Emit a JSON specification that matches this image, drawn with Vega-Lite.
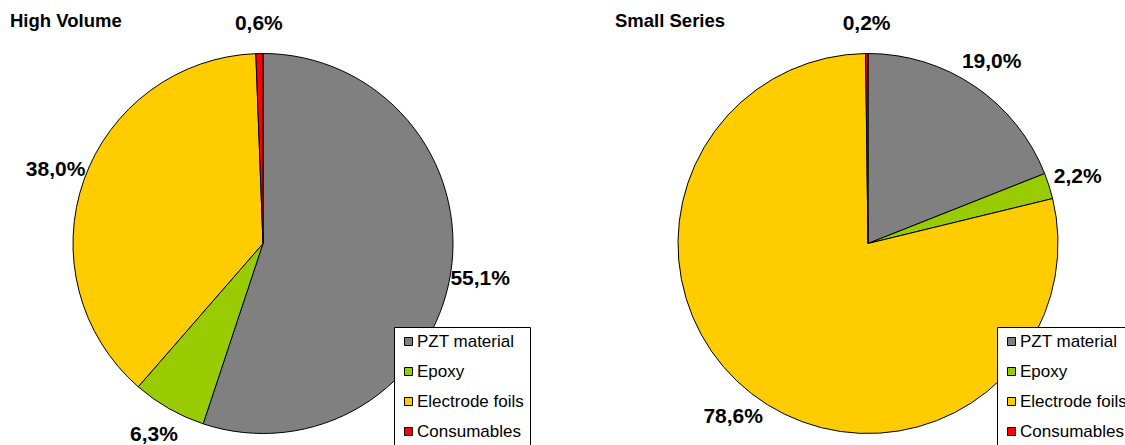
{
  "$schema": "https://vega.github.io/schema/vega-lite/v6.json",
  "padding": {"left": 0, "top": 0, "right": 0, "bottom": 0},
  "background": "white",
  "datasets": {
    "high": [
      {"component": "PZT material", "idx": 1, "share": 0.551},
      {"component": "Epoxy", "idx": 2, "share": 0.063},
      {"component": "Electrode foils", "idx": 3, "share": 0.380},
      {"component": "Consumables", "idx": 4, "share": 0.006}
    ],
    "small": [
      {"component": "PZT material", "idx": 1, "share": 0.190},
      {"component": "Epoxy", "idx": 2, "share": 0.022},
      {"component": "Electrode foils", "idx": 3, "share": 0.786},
      {"component": "Consumables", "idx": 4, "share": 0.002}
    ]
  },
  "spacing": 74,
  "resolve": {"scale": {"color": "independent"}, "legend": {"color": "independent"}},
  "hconcat": [
    {
      "title": {"text": "High Volume", "anchor": "start", "offset": -30},
      "width": 526,
      "height": 487,
      "data": {"name": "high"},
      "encoding": {
        "theta": {"field": "share", "type": "quantitative", "stack": true},
        "order": {"field": "idx", "type": "quantitative"}
      },
      "layer": [
        {
          "mark": {"type": "arc", "outerRadius": 190, "stroke": "black", "strokeWidth": 1},
          "encoding": {
            "color": {
              "field": "component",
              "type": "nominal",
              "scale": {"domain": ["PZT material", "Epoxy", "Electrode foils", "Consumables"], "range": ["#808080", "#99CC00", "#FFCC00", "#FF0000"]},
              "legend": {"orient": "none", "legendX": 394, "legendY": 327}
            }
          }
        },
        {
          "mark": {"type": "text", "radius": 220, "font": "Liberation Sans", "fontWeight": "bold", "fontSize": 21, "baseline": "middle", "align": "center", "color": "black"},
          "encoding": {"text": {"field": "share", "type": "quantitative", "format": ".1%"}}
        }
      ]
    },
    {
      "title": {"text": "Small Series", "anchor": "start", "offset": -30},
      "width": 526,
      "height": 487,
      "data": {"name": "small"},
      "encoding": {
        "theta": {"field": "share", "type": "quantitative", "stack": true},
        "order": {"field": "idx", "type": "quantitative"}
      },
      "layer": [
        {
          "mark": {"type": "arc", "outerRadius": 190, "stroke": "black", "strokeWidth": 1},
          "encoding": {
            "color": {
              "field": "component",
              "type": "nominal",
              "scale": {"domain": ["PZT material", "Epoxy", "Electrode foils", "Consumables"], "range": ["#808080", "#99CC00", "#FFCC00", "#FF0000"]},
              "legend": {"orient": "none", "legendX": 392, "legendY": 327}
            }
          }
        },
        {
          "mark": {"type": "text", "radius": 220, "font": "Liberation Sans", "fontWeight": "bold", "fontSize": 21, "baseline": "middle", "align": "center", "color": "black"},
          "encoding": {"text": {"field": "share", "type": "quantitative", "format": ".1%"}}
        }
      ]
    }
  ],
  "config": {
    "locale": {"number": {"decimal": ",", "thousands": ".", "grouping": [3], "currency": ["", " €"]}},
    "view": {"stroke": null},
    "title": {"font": "Liberation Sans", "fontSize": 18.5, "fontWeight": "bold", "color": "black", "dx": 10},
    "legend": {
      "title": null,
      "fillColor": "white",
      "strokeColor": "black",
      "padding": 6,
      "symbolType": "square",
      "symbolSize": 64,
      "symbolStrokeColor": "black",
      "symbolStrokeWidth": 1,
      "symbolOpacity": 1,
      "labelFont": "Liberation Sans",
      "labelFontSize": 17,
      "labelColor": "black",
      "labelOffset": 0,
      "rowPadding": 12,
      "cornerRadius": 0
    }
  }
}
